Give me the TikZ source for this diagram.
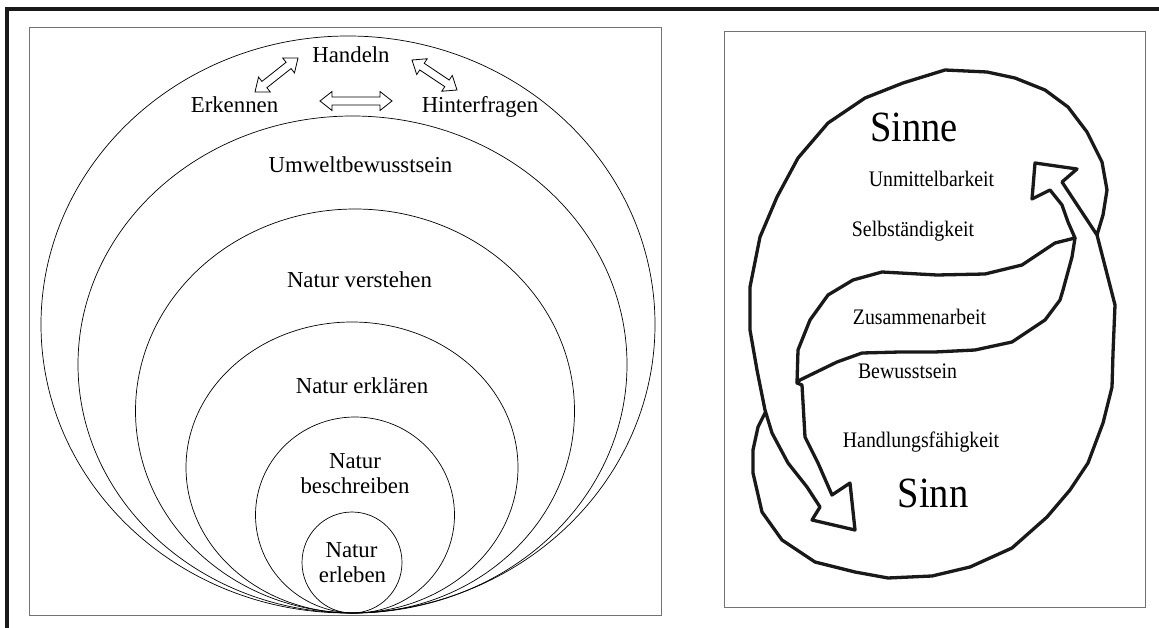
\documentclass[tikz,border=0pt]{standalone}
\usepackage{fontspec}
\setmainfont{Liberation Serif}
\usetikzlibrary{calc}
\newcommand{\dblarr}[2]{%
  \path ($(#1)!12pt!(#2)$) coordinate (h1) ($(#2)!12pt!(#1)$) coordinate (h2);
  \draw[dbl] (#1) -- ($(h1)!9.5pt!90:(#2)$) -- ($(h1)!4pt!90:(#2)$)
    -- ($(h2)!4pt!-90:(#1)$) -- ($(h2)!9.5pt!-90:(#1)$) -- (#2)
    -- ($(h2)!9.5pt!90:(#1)$) -- ($(h2)!4pt!90:(#1)$)
    -- ($(h1)!4pt!-90:(#2)$) -- ($(h1)!9.5pt!-90:(#2)$) -- cycle;}
\newcommand{\tallR}[1]{\scalebox{1}[1.12]{#1}}
\begin{document}
\begin{tikzpicture}[x=1pt,y=-1pt,
  ring/.style={draw=black,line width=0.7pt},
  panel/.style={draw=black!55,line width=1pt},
  dbl/.style={draw=black,fill=white,line width=0.8pt,line join=miter},
  blob/.style={draw=black!90,line width=3.3pt,line join=round,line cap=round},
  lbl/.style={inner sep=0pt,anchor=base,font=\fontsize{22.8}{26}\selectfont},
  slbl/.style={inner sep=0pt,anchor=base,font=\fontsize{19.8}{22}\selectfont},
  blbl/.style={inner sep=0pt,anchor=base,font=\fontsize{38.5}{42}\selectfont}]
\useasboundingbox (0,0) rectangle (1159,628);
\fill[white] (0,0) rectangle (1159,628);
% outer frame
\draw[line width=4pt,black!90] (7,628) -- (7,9.3) -- (1159,9.3);
% panels
\draw[panel] (29,28) rectangle (661,615);
\draw[panel] (724,32) rectangle (1145,607);
% nested ellipses
\draw[ring] (348,324.5) ellipse [x radius=307pt, y radius=288.5pt];
\draw[ring] (352.5,364.5) ellipse [x radius=274.5pt, y radius=248.5pt];
\draw[ring] (355,411) ellipse [x radius=219.5pt, y radius=202pt];
\draw[ring] (352,467.5) ellipse [x radius=166pt, y radius=145.5pt];
\draw[ring] (355,515) ellipse [x radius=99.5pt, y radius=98pt];
\draw[ring] (352,562.5) ellipse [x radius=50pt, y radius=50.5pt];
% labels left
\node[lbl] (handeln) at (351,63) {Handeln};
\node[lbl] (erkennen) at (234.5,113) {Erkennen};
\node[lbl] (hinter) at (480,112.5) {Hinterfragen};
\node[lbl] (umwelt) at (360.5,173) {Umweltbewusstsein};
\node[lbl] (verstehen) at (359.5,288) {Natur verstehen};
\node[lbl] (erklaeren) at (362,393) {Natur erklären};
\node[lbl] (beschr1) at (355,468) {Natur};
\node[lbl] (beschr2) at (355,493) {beschreiben};
\node[lbl] (erleb1) at (351.5,557) {Natur};
\node[lbl] (erleb2) at (352.5,582) {erleben};
% double arrows
\coordinate (a1s) at (255,92);
\coordinate (a1e) at (298,58);
\coordinate (a2s) at (320,101);
\coordinate (a2e) at (392,101);
\coordinate (a3s) at (412,60);
\coordinate (a3e) at (457,90);
\dblarr{a1s}{a1e}
\dblarr{a2s}{a2e}
\dblarr{a3s}{a3e}
% right panel: outline strokes
\draw[blob] (1097,235) -- (1103,215) -- (1107,190) -- (1102,162) -- (1087,132)
  -- (1068,107) -- (1045,90) -- (1015,78) -- (987,72) -- (945,70) -- (903,83)
  -- (865,98) -- (828,123) -- (798,158) -- (777,197) -- (760,237) -- (750,287)
  -- (750,330) -- (757,370) -- (765,410) -- (772,433) -- (788,463) -- (807,487)
  -- (820,507) -- (812,520) -- (855,530) -- (850,483) -- (832,495) -- (818,463)
  -- (805,437) -- (802,385) -- (797,383) -- (798,350) -- (810,320) -- (828,295)
  -- (853,280) -- (882,272) -- (937,275) -- (985,274) -- (1022,265) -- (1055,243)
  -- (1075,238) -- (1068,222) -- (1062,205) -- (1050,190) -- (1032,199)
  -- (1035,163) -- (1077,169) -- (1062,182) -- (1097,235) -- (1115,305)
  -- (1113,353) -- (1112,387) -- (1103,423) -- (1088,463) -- (1070,490)
  -- (1047,517) -- (1012,548) -- (970,567) -- (932,576) -- (888,578)
  -- (855,572) -- (815,562) -- (782,540) -- (762,512) -- (753,473)
  -- (753,450) -- (758,427) -- (765,413);
\draw[blob] (1075,238) -- (1072,257) -- (1063,290) -- (1060,300) -- (1045,320)
  -- (1012,342) -- (975,350) -- (935,352) -- (900,352) -- (862,353)
  -- (837,362) -- (800,380) -- (797,383);
% labels right
\node[blbl] (sinne) at (914,142) {\tallR{Sinne}};
\node[slbl] (unmittel) at (931.5,187) {\tallR{Unmittelbarkeit}};
\node[slbl] (selbst) at (913,237) {\tallR{Selbständigkeit}};
\node[slbl] (zusammen) at (919.5,324) {\tallR{Zusammenarbeit}};
\node[slbl] (bewusst) at (907.5,378) {\tallR{Bewusstsein}};
\node[slbl] (handlung) at (921,447) {\tallR{Handlungsfähigkeit}};
\node[blbl] (sinn) at (933,507) {\tallR{Sinn}};
\end{tikzpicture}
\end{document}
